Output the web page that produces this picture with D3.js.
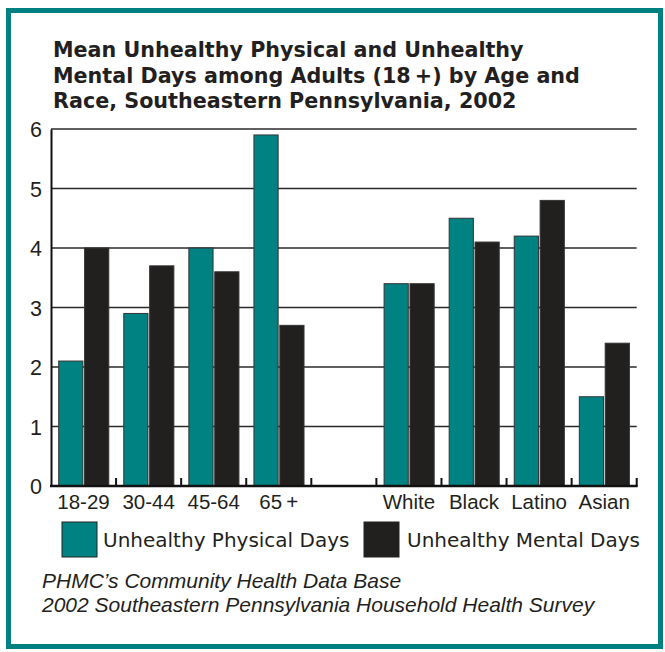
<!DOCTYPE html>
<html>
<head>
<meta charset="utf-8">
<script src="https://cdn.jsdelivr.net/npm/d3@7"></script>
<style>
  html, body { margin: 0; padding: 0; background: #fff; }
  svg { display: block; }
</style>
</head>
<body>
<svg id="chart" width="665" height="652"></svg>
<script>
// ---- data ----
const categories = ["18-29", "30-44", "45-64", "65\u2009+", "", "White", "Black", "Latino", "Asian"];
const seriesNames = ["Unhealthy Physical Days", "Unhealthy Mental Days"];
const physicalDays = [2.1, 2.9, 4.0, 5.9, null, 3.4, 4.5, 4.2, 1.5];
const mentalDays   = [4.0, 3.7, 3.6, 2.7, null, 3.4, 4.1, 4.8, 2.4];
const yTicks = [0, 1, 2, 3, 4, 5, 6];
const titleLines = [
  "Mean Unhealthy Physical and Unhealthy",
  "Mental Days among Adults (18\u2009+) by Age and",
  "Race, Southeastern Pennsylvania, 2002"
];
const sourceLines = [
  "PHMC\u2019s Community Health Data Base",
  "2002 Southeastern Pennsylvania Household Health Survey"
];

(function () {
const colors = ["#008282", "#221f1f"];
const textColor = "#231f20";
const fontTitle = "'DejaVu Sans', sans-serif";
const fontLegend = "'DejaVu Sans', sans-serif";
const font = "'Liberation Sans', Arial, sans-serif";

const svg = d3.select("#chart");

// outer teal frame
svg.append("rect")
  .attr("x", 8.5).attr("y", 10.5)
  .attr("width", 652).attr("height", 636)
  .attr("fill", "#fff")
  .attr("stroke", "#008080").attr("stroke-width", 5);

// title
svg.append("g").selectAll("text").data(titleLines).join("text")
  .attr("x", 53).attr("y", (d, i) => 57 + i * 25.5)
  .attr("font-family", fontTitle).attr("font-weight", 700)
  .attr("font-size", 20.7).attr("fill", textColor)
  .text(d => d);

const pLeft = 51, pRight = 636.7, pTop = 129, pBottom = 486;

const x = d3.scaleBand().domain(d3.range(categories.length)).range([pLeft, pRight]).padding(0);
const x1 = d3.scaleBand().domain([0, 1]).range([7.7, x.bandwidth() - 7.3]).paddingInner(0.065);
const y = d3.scaleLinear().domain([0, 6]).range([pBottom, pTop]);

// gridlines
svg.append("g").selectAll("line").data(yTicks.filter(d => d > 0)).join("line")
  .attr("x1", pLeft).attr("x2", pRight)
  .attr("y1", d => y(d)).attr("y2", d => y(d))
  .attr("stroke", "#2a2a2a").attr("stroke-width", 1.5);

// bars
const groups = svg.append("g").selectAll("g").data(categories.map((c, i) => i)).join("g")
  .attr("transform", i => `translate(${x(i)},0)`);
groups.selectAll("rect")
  .data(i => [physicalDays[i], mentalDays[i]].map((v, s) => ({ v, s })).filter(d => d.v != null))
  .join("rect")
  .attr("x", d => x1(d.s))
  .attr("width", x1.bandwidth())
  .attr("y", d => y(d.v))
  .attr("height", d => y(0) - y(d.v))
  .attr("fill", d => colors[d.s])
  .attr("stroke", "#333").attr("stroke-width", 1);

// y axis
const yAxis = svg.append("g").attr("transform", `translate(${pLeft},0)`)
  .call(d3.axisLeft(y).tickValues(yTicks).tickFormat(d3.format("d")).tickSize(0).tickPadding(9));
yAxis.select(".domain").attr("stroke", "#111").attr("stroke-width", 2);
yAxis.selectAll("text").attr("font-family", font).attr("font-size", 21.5)
  .attr("fill", textColor).attr("dy", "0.36em");

// x axis
const xAxis = svg.append("g").attr("transform", `translate(0,${pBottom})`)
  .call(d3.axisBottom(x).tickSize(0).tickPadding(0).tickFormat(i => categories[i]));
xAxis.select(".domain").remove();
xAxis.selectAll("text").attr("font-family", font).attr("font-size", 20.5)
  .attr("fill", textColor).attr("dy", 0).attr("y", 23);
svg.append("line").attr("x1", pLeft - 1).attr("x2", pRight + 1)
  .attr("y1", pBottom).attr("y2", pBottom)
  .attr("stroke", "#111").attr("stroke-width", 2.5);
// small upward ticks at band boundaries
const boundaries = d3.range(1, categories.length + 1).map(i => x.step() * i + pLeft);
svg.append("g").selectAll("line").data(boundaries).join("line")
  .attr("x1", d => d).attr("x2", d => d)
  .attr("y1", pBottom).attr("y2", pBottom - 8)
  .attr("stroke", "#111").attr("stroke-width", 2);

// legend
const legendItems = [
  { name: seriesNames[0], color: colors[0], sx: 62, tx: 103 },
  { name: seriesNames[1], color: colors[1], sx: 364, tx: 407 }
];
const lg = svg.append("g").selectAll("g").data(legendItems).join("g");
lg.append("rect")
  .attr("x", d => d.sx).attr("y", 522).attr("width", 35).attr("height", 35)
  .attr("fill", d => d.color).attr("stroke", "#222").attr("stroke-width", 1);
lg.append("text")
  .attr("x", d => d.tx).attr("y", 547)
  .attr("font-family", fontLegend).attr("font-size", 20).attr("fill", textColor)
  .text(d => d.name);

// source
svg.append("g").selectAll("text").data(sourceLines).join("text")
  .attr("x", 42).attr("y", (d, i) => 588 + i * 24)
  .attr("font-family", font).attr("font-style", "italic")
  .attr("font-size", 21).attr("fill", textColor)
  .text(d => d);
})();
</script>
</body>
</html>
